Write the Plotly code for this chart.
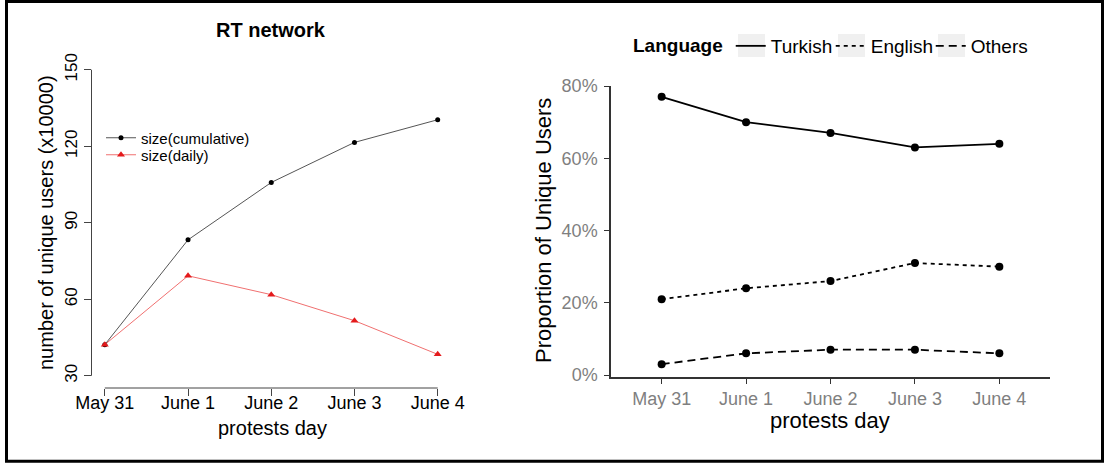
import plotly.graph_objects as go

# ---- data ----
days = ["May 31", "June 1", "June 2", "June 3", "June 4"]
size_cumulative = [42.2, 83.3, 105.8, 121.5, 130.4]
size_daily = [42.2, 69.2, 61.8, 51.6, 38.4]
left_yticks = [30, 60, 90, 120, 150]

turkish = [77, 70, 67, 63, 64]
english = [21, 24, 26, 31, 30]
others = [3, 6, 7, 7, 6]
right_yticks = [0, 20, 40, 60, 80]
right_yticklabels = [f"{v}%" for v in right_yticks]

W, H = 1105, 463
FONT = "Liberation Sans, Arial, Helvetica, sans-serif"


def px(x):
    return x / W


def py(y):
    return 1 - y / H


fig = go.Figure()

# ---- left panel (base R style) ----
fig.add_trace(go.Scatter(
    x=days, y=size_cumulative, mode="lines+markers", name="size(cumulative)",
    line=dict(color="#555555", width=1),
    marker=dict(symbol="circle", size=5, color="black"),
    xaxis="x", yaxis="y", legend="legend"))
fig.add_trace(go.Scatter(
    x=days, y=size_daily, mode="lines+markers", name="size(daily)",
    line=dict(color="#f07070", width=1),
    marker=dict(symbol="triangle-up", size=7, color="#e41a1c"),
    xaxis="x", yaxis="y", legend="legend3"))

# ---- right panel (ggplot style) ----
styles = [("Turkish", turkish, "solid"),
          ("English", english, "4px,4px"),
          ("Others", others, "8px,5px")]
for name, vals, dash in styles:
    fig.add_trace(go.Scatter(
        x=days, y=vals, mode="lines", name=name,
        line=dict(color="black", width=1.8, dash=dash),
        xaxis="x2", yaxis="y2", legend="legend2"))
for name, vals, dash in styles:
    fig.add_trace(go.Scatter(
        x=days, y=vals, mode="markers", showlegend=False,
        marker=dict(size=8, color="black"),
        xaxis="x2", yaxis="y2"))

fig.update_layout(
    width=W, height=H,
    margin=dict(l=0, r=0, t=0, b=0),
    paper_bgcolor="white", plot_bgcolor="white",
    font=dict(family=FONT, color="black"),
    xaxis=dict(domain=[px(91.5), px(451)], type="category", range=[-0.16, 4.16],
               showline=False, showgrid=False, zeroline=False,
               ticks="outside", ticklen=7, tickcolor="#444", tickwidth=1,
               ticklabelstandoff=-9,
               tickfont=dict(size=18, color="black"), automargin=False),
    yaxis=dict(domain=[py(388), py(57.5)], range=[25.2, 154.8],
               tickvals=left_yticks, tickangle=-90,
               showline=False, showgrid=False, zeroline=False,
               ticks="outside", ticklen=7, tickcolor="#444", tickwidth=1,
               tickfont=dict(size=17, color="black"), automargin=False),
    xaxis2=dict(domain=[px(611), px(1050)], type="category", range=[-0.6, 4.6],
                anchor="y2",
                showline=True, linecolor="#333", linewidth=1.5,
                showgrid=False, zeroline=False,
                ticks="outside", ticklen=5, tickcolor="#333", tickwidth=1.2,
                tickfont=dict(size=18, color="#7f7f7f"), automargin=False),
    yaxis2=dict(domain=[py(377), py(86)], range=[-0.55, 80], anchor="x2",
                tickvals=right_yticks, ticktext=right_yticklabels,
                showline=True, linecolor="#333", linewidth=1.5,
                showgrid=False, zeroline=False,
                ticks="outside", ticklen=5, tickcolor="#333", tickwidth=1.2,
                ticklabelstandoff=3,
                tickfont=dict(size=18, color="#7f7f7f"), automargin=False),
    legend=dict(x=px(101), y=py(138), xanchor="left", yanchor="middle",
                bgcolor="rgba(0,0,0,0)", font=dict(size=15), borderwidth=0),
    legend3=dict(x=px(101), y=py(155), xanchor="left", yanchor="middle",
                 bgcolor="rgba(0,0,0,0)", font=dict(size=15), borderwidth=0),
    legend2=dict(x=px(631), y=py(46), xanchor="left", yanchor="middle",
                 orientation="h", bgcolor="rgba(0,0,0,0)",
                 entrywidth=55, entrywidthmode="pixels",
                 title=dict(text="<b>Language</b>", font=dict(size=19), side="left"),
                 font=dict(size=19), borderwidth=0),
    showlegend=True,
)

# ggplot-style grey legend key backgrounds
for x0, x1 in [(738, 765), (838, 865), (938, 965)]:
    fig.add_shape(type="rect", xref="paper", yref="paper",
                  x0=px(x0), x1=px(x1), y0=py(57), y1=py(34),
                  line=dict(width=0), fillcolor="#f0f0f0", layer="below")

# R-style detached axis lines spanning only the tick range
fig.add_shape(type="line", xref="x domain", yref="y", x0=0, x1=0,
              y0=left_yticks[0], y1=left_yticks[-1], line=dict(color="#444", width=1))
fig.add_shape(type="line", xref="x", yref="y domain", x0=days[0], x1=days[-1],
              y0=0, y1=0, line=dict(color="#444", width=1))

# outer frame
fig.add_shape(type="rect", xref="paper", yref="paper",
              x0=px(6.5), x1=px(1102.5), y0=py(461.3), y1=py(1.5),
              line=dict(color="black", width=3), fillcolor="rgba(0,0,0,0)", layer="above")

# titles
ann = dict(xref="paper", yref="paper", showarrow=False, xanchor="center", yanchor="middle")
fig.add_annotation(text="<b>RT network</b>", x=px(271), y=py(30), font=dict(size=20), **ann)
fig.add_annotation(text="number of unique users (x10000)", x=px(46), y=py(223),
                   textangle=-90, font=dict(size=20), **ann)
fig.add_annotation(text="protests day", x=px(272), y=py(428), font=dict(size=20), **ann)
fig.add_annotation(text="Proportion of Unique Users", x=px(544), y=py(231),
                   textangle=-90, font=dict(size=22), **ann)
fig.add_annotation(text="protests day", x=px(830), y=py(420), font=dict(size=22), **ann)

fig.write_html("out.html", config={"displayModeBar": False},
               post_script="document.body.style.margin='0';document.body.style.overflow='hidden';")
